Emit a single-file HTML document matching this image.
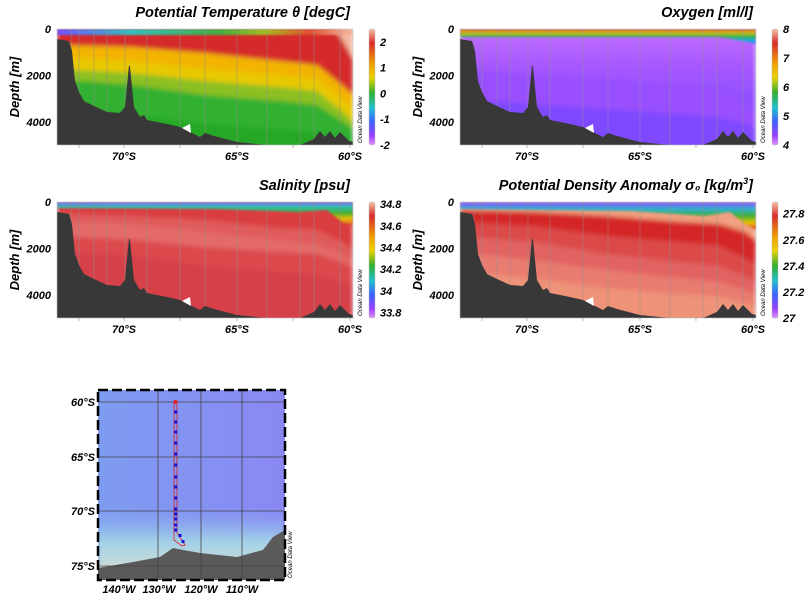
<!DOCTYPE html>
<html><head><meta charset="utf-8"><style>
body{margin:0;background:#fff;width:809px;height:601px;overflow:hidden}
svg{display:block;font-family:"Liberation Sans",sans-serif}
.t{font-weight:bold;font-style:italic}
</style></head><body>
<svg id="s" width="809" height="601" viewBox="0 0 809 601" xmlns="http://www.w3.org/2000/svg"></svg>
<script>
const W=296,H=116;
const bathy=[[0,10],[12,12],[15,22],[18,52],[22,63],[27,72],[37,77],[50,83],[63,84],[68,78],[72,36],[73,38],[77,78],[83,88],[87,86],[90,91],[110,95],[123,98],[137,105],[143,108],[148,104],[157,107],[180,113],[210,116],[243,116],[257,110],[263,102],[268,108],[273,102],[278,109],[283,103],[292,112],[296,113],[296,116],[0,116]];
const stations=[14,22,37,50,68,90,123,148,180,210,243,257,283];
function poly(xs,ys,ox,oy,fill){
  let p=xs.map((x,i)=>(ox+x)+','+(oy+ys[i])).join(' ');
  p+=' '+(ox+W)+','+(oy+H+10)+' '+ox+','+(oy+H+10);
  return `<polygon points="${p}" fill="${fill}"/>`;
}
const X=[0,74,148,222,260,285,296];
const panels=[
 {ox:57,oy:29,title:'Potential Temperature θ [degC]',ticks:[['2',2],['1',1],['0',0],['-1',-1],['-2',-2]],vmax:2.5,vmin:-2,
  body:(ox,oy)=>`<rect x="${ox}" y="${oy}" width="${W}" height="${H}" fill="#d42a2a"/>
  ${poly(X,[16,18,24,32,36,56,66],ox,oy,'#f2b400')}
  ${poly(X,[28,32,40,46,50,70,78],ox,oy,'#e8c800')}
  ${poly(X,[40,44,52,58,62,82,92],ox,oy,'#8cc020')}
  ${poly(X,[50,56,66,72,76,92,100],ox,oy,'#30b030')}
  ${poly(X,[80,85,95,100,104,108,110],ox,oy,'#28a828')}
  <polygon points="${ox+278},${oy} ${ox+W},${oy} ${ox+W},${oy+30} ${ox+286},${oy+12}" fill="#f4b8a0"/>`,
  band:(ox,oy)=>`<rect x="${ox}" y="${oy}" width="${W}" height="6" fill="url(#tband)"/>`},
 {ox:460,oy:29,title:'Oxygen [ml/l]',ticks:[['8',8],['7',7],['6',6],['5',5],['4',4]],vmax:8,vmin:4,
  body:(ox,oy)=>`<rect x="${ox}" y="${oy}" width="${W}" height="${H}" fill="url(#oxg)"/>
  ${poly(X,[40,45,50,55,58,75,82],ox,oy,'#9a50ff')}
  ${poly(X,[70,75,80,85,88,95,100],ox,oy,'#7f48ff')}`,
  band:(ox,oy)=>`<polygon points="${ox},${oy} ${ox+W},${oy} ${ox+W},${oy+15} ${ox+282},${oy+12} ${ox+260},${oy+8} ${ox},${oy+8}" fill="url(#oband)"/>`},
 {ox:57,oy:202,title:'Salinity [psu]',ticks:[['34.8',34.8],['34.6',34.6],['34.4',34.4],['34.2',34.2],['34',34],['33.8',33.8]],vmax:34.82,vmin:33.75,
  body:(ox,oy)=>`<rect x="${ox}" y="${oy}" width="${W}" height="${H}" fill="#da3c40"/>
  ${poly(X,[12,14,18,26,28,40,48],ox,oy,'#e05c5c')}
  ${poly(X,[20,22,30,38,42,52,60],ox,oy,'#e46a68')}
  ${poly(X,[34,38,45,50,52,60,66],ox,oy,'#dc4a4e')}
  ${poly(X,[50,54,64,70,72,80,84],ox,oy,'#d6404a')}`,
  band:(ox,oy)=>`<polygon points="${ox},${oy} ${ox+W},${oy} ${ox+W},${oy+24} ${ox+285},${oy+20} ${ox+270},${oy+8} ${ox+240},${oy+10} ${ox+160},${oy+7} ${ox},${oy+6}" fill="url(#sband)"/>`},
 {ox:460,oy:202,title:'Potential Density Anomaly σ\u2080 [kg/m<tspan dy="-6" font-size="9">3</tspan><tspan dy="6">]</tspan>',ticks:[['27.8',27.8],['27.6',27.6],['27.4',27.4],['27.2',27.2],['27',27]],vmax:27.89,vmin:27,
  body:(ox,oy)=>`<rect x="${ox}" y="${oy}" width="${W}" height="${H}" fill="#f0a080"/>
  ${poly(X,[8,10,14,20,22,30,38],ox,oy,'#d42828')}
  ${poly(X,[20,24,34,40,44,56,62],ox,oy,'#dc4848')}
  ${poly(X,[34,40,52,60,64,74,80],ox,oy,'#e26262')}
  ${poly(X,[50,58,68,76,80,88,92],ox,oy,'#e87c70')}
  ${poly(X,[70,76,86,92,94,100,104],ox,oy,'#ee9278')}`,
  band:(ox,oy)=>`<polygon points="${ox},${oy} ${ox+W},${oy} ${ox+W},${oy+28} ${ox+285},${oy+22} ${ox+270},${oy+10} ${ox+245},${oy+14} ${ox+170},${oy+9} ${ox},${oy+7}" fill="url(#dband)"/>`}
];
let s=`<defs>
<linearGradient id="cb" x1="0" y1="0" x2="0" y2="1">
<stop offset="0" stop-color="#f8c4a8"/><stop offset=".12" stop-color="#d82a2a"/><stop offset=".3" stop-color="#f0a000"/><stop offset=".42" stop-color="#e8d000"/><stop offset=".55" stop-color="#30b030"/><stop offset=".68" stop-color="#20c0d0"/><stop offset=".8" stop-color="#3a60ff"/><stop offset=".92" stop-color="#9a40ff"/><stop offset="1" stop-color="#e090ff"/></linearGradient>
<linearGradient id="tband" x1="0" y1="0" x2="1" y2="0"><stop offset="0" stop-color="#7050ff"/><stop offset=".25" stop-color="#30c0c0"/><stop offset=".55" stop-color="#40b040"/><stop offset=".7" stop-color="#a0c020"/><stop offset=".85" stop-color="#e05030"/><stop offset="1" stop-color="#f4b8a0"/></linearGradient>
<linearGradient id="oxg" x1="0" y1="0" x2="0" y2="1"><stop offset="0" stop-color="#c070ff"/><stop offset=".3" stop-color="#a858ff"/><stop offset="1" stop-color="#7444ff"/></linearGradient>
<linearGradient id="oband" x1="0" y1="0" x2="0" y2="1"><stop offset="0" stop-color="#e06020"/><stop offset=".3" stop-color="#c0c020"/><stop offset=".5" stop-color="#30b040"/><stop offset=".75" stop-color="#20b0e0"/><stop offset="1" stop-color="#5060ff"/></linearGradient>
<linearGradient id="sband" x1="0" y1="0" x2="0" y2="1"><stop offset="0" stop-color="#8060ff"/><stop offset=".2" stop-color="#30c0b0"/><stop offset=".45" stop-color="#40b030"/><stop offset=".7" stop-color="#e8c000"/><stop offset="1" stop-color="#da3c40"/></linearGradient>
<linearGradient id="dband" x1="0" y1="0" x2="0" y2="1"><stop offset="0" stop-color="#9050ff"/><stop offset=".25" stop-color="#30b0d0"/><stop offset=".5" stop-color="#40b030"/><stop offset=".75" stop-color="#f0c000"/><stop offset="1" stop-color="#d42828"/></linearGradient>
<filter id="bl" x="-5%" y="-5%" width="110%" height="110%"><feGaussianBlur stdDeviation="2.5"/></filter>
<filter id="bl2" x="-5%" y="-20%" width="110%" height="140%"><feGaussianBlur stdDeviation="1"/></filter>
<linearGradient id="sea" x1="0" y1="0" x2="1" y2="0"><stop offset="0" stop-color="#7e9cf0"/><stop offset="1" stop-color="#8a88f4"/></linearGradient>
<linearGradient id="coast" x1="0" y1="0" x2="0" y2="1"><stop offset="0" stop-color="#88a8f0" stop-opacity="0"/><stop offset=".45" stop-color="#a0d0e8"/><stop offset=".8" stop-color="#c8dcd8"/><stop offset="1" stop-color="#e4d0c4"/></linearGradient>
</defs>`;
panels.forEach((p,i)=>{
  const ox=p.ox,oy=p.oy;
  s+=`<clipPath id="c${i}"><rect x="${ox}" y="${oy}" width="${W}" height="${H}"/></clipPath>`;
  s+=`<g clip-path="url(#c${i})"><g filter="url(#bl)">${p.body(ox,oy)}</g><g filter="url(#bl2)">${p.band(ox,oy)}</g>`;
  stations.forEach(x=>{s+=`<line x1="${ox+x}" y1="${oy}" x2="${ox+x}" y2="${oy+H}" stroke="#909090" stroke-width="0.8" opacity=".6"/>`});
  s+=`<polygon points="${bathy.map(q=>(ox+q[0])+','+(oy+q[1])).join(' ')}" fill="#383838"/>`;
  s+=`<polygon points="${ox+125},${oy+99} ${ox+133},${oy+95} ${ox+134},${oy+104}" fill="#fff"/></g>`;
  s+=`<rect x="${ox}" y="${oy}" width="${W}" height="${H}" fill="none" stroke="#bbb" stroke-width=".6"/>`;
  s+=`<text class="t" x="${ox+W-3}" y="${oy-12}" text-anchor="end" font-size="14.5">${p.title}</text>`;
  [['0',0],['2000',2000],['4000',4000]].forEach(t=>{const y=oy+t[1]/5000*H;s+=`<text class="t" x="${ox-6}" y="${y+4}" text-anchor="end" font-size="11">${t[0]}</text>`;});
  s+=`<text class="t" transform="translate(${ox-38},${oy+58}) rotate(-90)" text-anchor="middle" font-size="13">Depth [m]</text>`;
  [['70°S',67],['65°S',180],['60°S',293]].forEach(t=>{s+=`<text class="t" x="${ox+t[1]}" y="${oy+H+15}" text-anchor="middle" font-size="11">${t[0]}</text>`;});
  [22,67,123,180,236,293].forEach(x=>{s+=`<line x1="${ox+x}" y1="${oy+H}" x2="${ox+x}" y2="${oy+H+3}" stroke="#888" stroke-width=".6"/>`});
  const cx=ox+W+16;
  s+=`<rect x="${cx}" y="${oy}" width="6" height="${H}" rx="2" fill="url(#cb)" stroke="#bbb" stroke-width=".5"/>`;
  p.ticks.forEach(t=>{const y=oy+(p.vmax-t[1])/(p.vmax-p.vmin)*H;s+=`<text class="t" x="${cx+11}" y="${y+4}" font-size="11">${t[0]}</text>`;});
  s+=`<text transform="translate(${ox+W+9},${oy+H-2}) rotate(-90)" font-size="6" font-style="italic">Ocean Data View</text>`;
});
const mx=98,my=390,mw=187,mh=190;
s+=`<clipPath id="cm"><rect x="${mx}" y="${my}" width="${mw}" height="${mh}"/></clipPath><g clip-path="url(#cm)">
<rect x="${mx}" y="${my}" width="${mw}" height="${mh}" fill="url(#sea)"/>
<rect x="${mx}" y="${my+118}" width="${mw}" height="${mh-118}" fill="url(#coast)" filter="url(#bl)"/>
<polygon points="${mx},${my+178} ${mx+35},${my+172} ${mx+62},${my+167} ${mx+75},${my+158} ${mx+85},${my+160} ${mx+102},${my+163} ${mx+139},${my+167} ${mx+165},${my+160} ${mx+175},${my+147} ${mx+187},${my+140} ${mx+187},${my+190} ${mx},${my+190}" fill="#5a5a5a"/>`;
[158,201,242].forEach(x=>{s+=`<line x1="${x}" y1="${my}" x2="${x}" y2="${my+mh}" stroke="#444" stroke-width=".8"/>`});
[402,457,511,566].forEach(y=>{s+=`<line x1="${mx}" y1="${y}" x2="${mx+mw}" y2="${y}" stroke="#444" stroke-width=".8"/>`});
s+=`<polygon points="174,401 177,401 177,533 185,545 182,546 174,540" fill="none" stroke="#e02020" stroke-width=".8"/>`;
[412,422,432,443,454,465,477,487,498,509,514,519,525,530].forEach(y=>{s+=`<rect x="174.2" y="${y-1.5}" width="3" height="3" fill="#1010e0"/>`});
s+=`<rect x="178.5" y="534" width="3" height="3" fill="#1010e0"/><rect x="181.5" y="540" width="3" height="3" fill="#1010e0"/><circle cx="175.5" cy="402" r="2" fill="#e02020"/></g>`;
s+=`<rect x="${mx}" y="${my}" width="${mw}" height="${mh}" fill="none" stroke="#000" stroke-width="2.5" stroke-dasharray="10 4"/>`;
[['60°S',402],['65°S',457],['70°S',511],['75°S',566]].forEach(t=>{s+=`<text class="t" x="95" y="${t[1]+4}" text-anchor="end" font-size="11">${t[0]}</text>`;});
[['140°W',119],['130°W',159],['120°W',201],['110°W',242]].forEach(t=>{s+=`<text class="t" x="${t[1]}" y="593" text-anchor="middle" font-size="11">${t[0]}</text>`;});
s+=`<text transform="translate(292,578) rotate(-90)" font-size="6" font-style="italic">Ocean Data View</text>`;
document.getElementById('s').innerHTML=s;
</script>
</body></html>
